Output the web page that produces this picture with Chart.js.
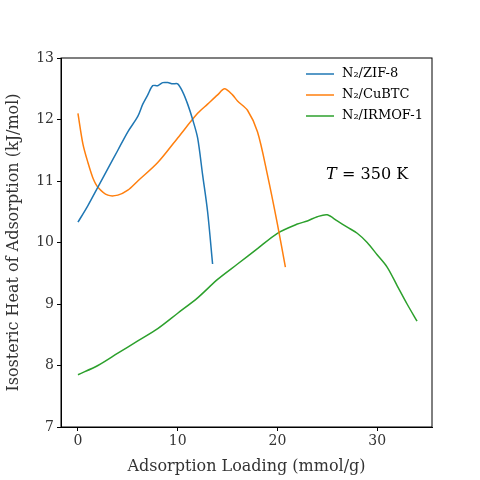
<!DOCTYPE html><html><head><script src="https://cdn.jsdelivr.net/npm/chart.js"></script>
<style>body{margin:0;background:#fff}</style></head><body>
<div style="width:480px;height:480px"><canvas id="c"></canvas></div>
<script>
const zifX=[0,1,2,3,4,5,6,6.5,7,7.5,8,8.5,9,9.5,10,10.5,11,11.5,12,12.5,13,13.5];
const zifY=[10.33,10.6,10.9,11.2,11.5,11.8,12.05,12.25,12.4,12.55,12.55,12.6,12.6,12.58,12.58,12.45,12.25,12.0,11.7,11.1,10.5,9.65];
const cuX=[0,0.5,1,1.5,2,3,4,5,6,8,10,12,13,14,14.7,15.5,16,17,18,19,20,20.8];
const cuY=[12.1,11.6,11.3,11.05,10.9,10.77,10.77,10.85,11.0,11.3,11.7,12.1,12.25,12.4,12.5,12.4,12.3,12.15,11.8,11.1,10.3,9.6];
const irX=[0,2,4,6,8,10,12,14,16,18,20,22,23,24,25,26,27,28,29,30,31,32,33,34];
const irY=[7.85,8.0,8.2,8.4,8.6,8.85,9.1,9.4,9.65,9.9,10.15,10.3,10.35,10.42,10.45,10.35,10.25,10.15,10.0,9.8,9.6,9.3,9.0,8.72];
const names=['N\u2082/ZIF-8','N\u2082/CuBTC','N\u2082/IRMOF-1'];
const colors=['#1f77b4','#ff7f0e','#2ca02c'];
const pts=(x,y)=>x.map((v,i)=>({x:v,y:y[i]}));
const F='"DejaVu Serif", serif';
const sets=[[zifX,zifY],[cuX,cuY],[irX,irY]].map((d,i)=>({label:names[i],data:pts(d[0],d[1]),borderColor:colors[i],borderWidth:1.5,pointRadius:0,tension:0.3,fill:false}));
const deco={id:'deco',afterDraw(ch){const c=ch.ctx,a=ch.chartArea;c.save();
c.strokeStyle='#000';c.lineWidth=1;c.strokeRect(a.left,a.top,a.right-a.left,a.bottom-a.top);
c.font='13px '+F;c.textBaseline='middle';
names.forEach((n,i)=>{const y=74+i*21;c.strokeStyle=colors[i];c.lineWidth=1.5;c.beginPath();c.moveTo(306,y);c.lineTo(334,y);c.stroke();c.fillStyle='#000';c.fillText(n,342,y);});
c.font='italic 16px '+F;c.fillText('T',326,175);c.font='16px '+F;c.fillText(' = 350 K',337,175);c.restore();}};
const gr={display:true,drawOnChartArea:false,drawTicks:true,tickLength:4,color:'#000'};
new Chart(document.getElementById('c'),{type:'line',data:{datasets:sets},plugins:[deco],
options:{responsive:true,maintainAspectRatio:false,animation:false,layout:{padding:{top:58,right:48,left:0,bottom:0}},
plugins:{legend:{display:false},tooltip:{enabled:false}},
scales:{x:{type:'linear',min:-1.7,max:35.5,grid:gr,border:{color:'#000'},
afterBuildTicks:a=>{a.ticks=[0,10,20,30].map(v=>({value:v}));},afterFit:s=>{s.height=53;},
ticks:{color:'#333',padding:2,font:{family:F,size:14}},title:{display:true,text:'Adsorption Loading (mmol/g)',color:'#333',padding:{top:0},font:{family:F,size:16}}},
y:{min:7,max:13,grid:gr,border:{color:'#000'},afterFit:s=>{s.width=61;},
ticks:{stepSize:1,color:'#333',padding:3,font:{family:F,size:14}},title:{display:true,text:'Isosteric Heat of Adsorption (kJ/mol)',color:'#333',font:{family:F,size:16}}}}}});
</script></body></html>
